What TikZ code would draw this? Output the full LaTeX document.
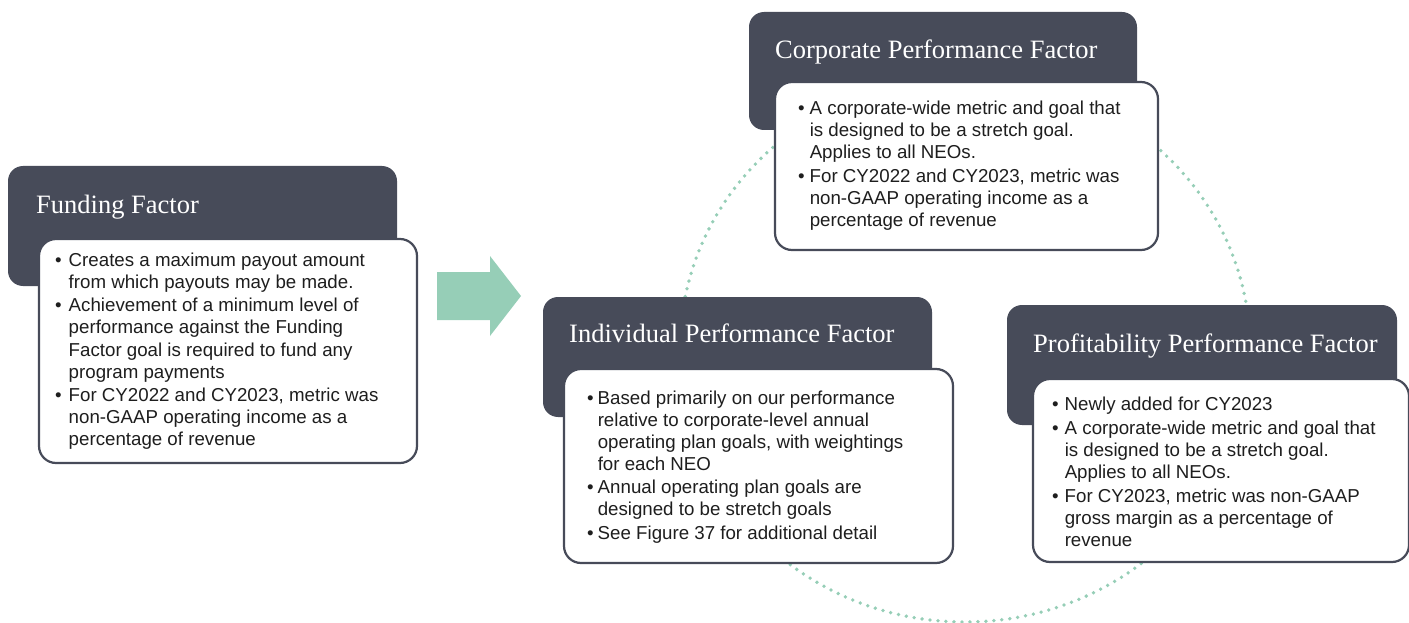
\documentclass[tikz,border=0pt]{standalone}
\usepackage{fontspec}
\setmainfont{Liberation Sans}
\newfontfamily\titlefont{Liberation Serif}
\definecolor{slate}{HTML}{474B59}
\definecolor{mint}{HTML}{96CEB7}
\definecolor{ink}{HTML}{1E1E1E}
\tikzset{
  darkbox/.style={fill=slate, draw=none, rounded corners=15pt, anchor=north west, inner sep=0pt, outer sep=0pt},
  whitebox/.style={fill=white, draw=slate, line width=2.2pt, rounded corners=17pt, anchor=north west, inner sep=0pt, outer sep=0pt},
  titletext/.style={anchor=base west, inner sep=0pt, text=white, font=\titlefont\fontsize{26.5}{30}\selectfont},
  bodytext/.style={anchor=base west, inner sep=0pt, text=ink, font=\fontsize{18.7}{22}\selectfont},
  ring/.style={draw=mint, line width=3.8pt, line cap=round, dash pattern=on 0pt off 8pt},
  blockarrow/.style={fill=mint, draw=none}
}
\newcommand{\bul}{\textbullet}
\begin{document}
\begin{tikzpicture}[x=1pt,y=-1pt]
\useasboundingbox (0,0) rectangle (1409,623);

% dotted ring
\coordinate (ringc) at (965,349);
\draw[ring] (ringc) ellipse [x radius=285pt, y radius=273pt];

% block arrow
\fill[blockarrow] (437,272) -- (490,272) -- (490,256) -- (521,296) -- (490,336) -- (490,320) -- (437,320) -- cycle;

% Funding Factor
\node[darkbox, minimum width=389pt, minimum height=120pt] (fundT) at (8,166) {};
\node[titletext] (fundL) at (36,213) {Funding Factor};
\node[whitebox, minimum width=378pt, minimum height=224pt] (fundW) at (39,239) {};
\node[bodytext] (fundB) at (55,266) {\fontsize{18.7}{22.5}\selectfont\begin{tabular}[t]{@{}l@{\hspace{7pt}}l@{}}
\bul & Creates a maximum payout amount\\
 & from which payouts may be made.\\
\bul & Achievement of a minimum level of\\
 & performance against the Funding\\
 & Factor goal is required to fund any\\
 & program payments\\
\bul & For CY2022 and CY2023, metric was\\
 & non-GAAP operating income as a\\
 & percentage of revenue
\end{tabular}};

% Corporate Performance Factor
\node[darkbox, minimum width=388pt, minimum height=118pt] (corpT) at (749,12) {};
\node[titletext] (corpL) at (775,59) {Corporate Performance Factor};
\node[whitebox, minimum width=383pt, minimum height=168pt] (corpW) at (775,82) {};
\node[bodytext] (corpB) at (798,115) {\begin{tabular}[t]{@{}l@{\hspace{5pt}}l@{}}
\bul & A corporate-wide metric and goal that\\
 & is designed to be a stretch goal.\\
 & Applies to all NEOs.\\[2pt]
\bul & For CY2022 and CY2023, metric was\\
 & non-GAAP operating income as a\\
 & percentage of revenue
\end{tabular}};

% Individual Performance Factor
\node[darkbox, minimum width=389pt, minimum height=120pt] (indT) at (543,297) {};
\node[titletext] (indL) at (569,342) {Individual Performance Factor};
\node[whitebox, minimum width=389pt, minimum height=194pt] (indW) at (564,369) {};
\node[bodytext] (indB) at (587,404) {\begin{tabular}[t]{@{}l@{\hspace{4pt}}l@{}}
\bul & Based primarily on our performance\\
 & relative to corporate-level annual\\
 & operating plan goals, with weightings\\
 & for each NEO\\[1pt]
\bul & Annual operating plan goals are\\
 & designed to be stretch goals\\[2pt]
\bul & See Figure 37 for additional detail
\end{tabular}};

% Profitability Performance Factor
\node[darkbox, minimum width=390pt, minimum height=120pt] (profT) at (1007,305) {};
\node[titletext] (profL) at (1033,352) {Profitability Performance Factor};
\node[whitebox, minimum width=376pt, minimum height=183pt] (profW) at (1033,379) {};
\node[bodytext] (profB) at (1052,410) {\begin{tabular}[t]{@{}l@{\hspace{6pt}}l@{}}
\bul & Newly added for CY2023\\[2.5pt]
\bul & A corporate-wide metric and goal that\\
 & is designed to be a stretch goal.\\
 & Applies to all NEOs.\\[2pt]
\bul & For CY2023, metric was non-GAAP\\
 & gross margin as a percentage of\\
 & revenue
\end{tabular}};
\end{tikzpicture}
\end{document}
